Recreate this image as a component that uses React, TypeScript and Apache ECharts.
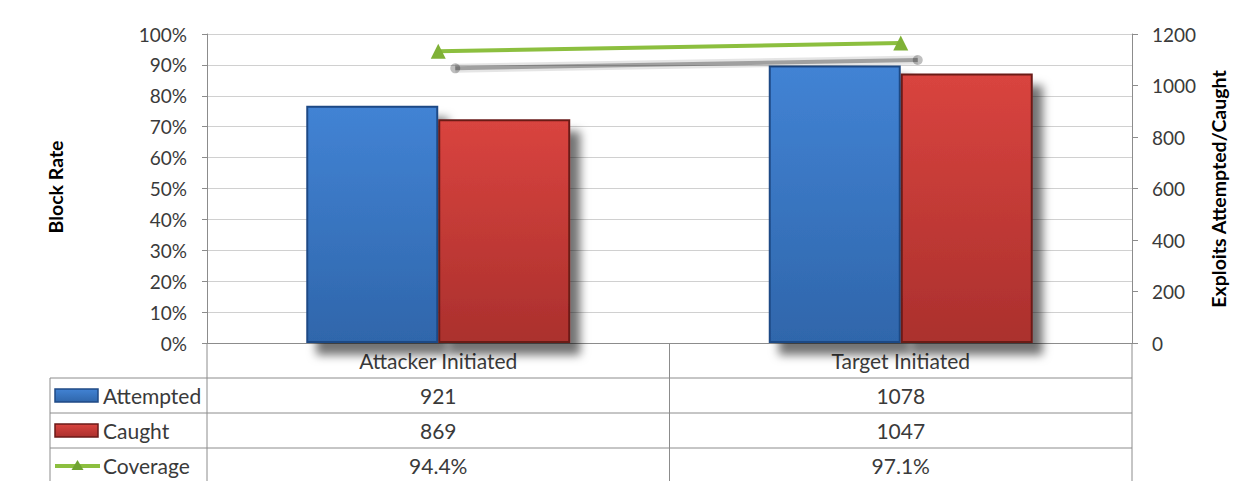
import React, { useEffect, useRef } from "react";
import * as echarts from "echarts";

const categories = ["Attacker Initiated", "Target Initiated"];
const attempted = [921, 1078];
const caught = [869, 1047];
const coverage = [94.4, 97.1];
const seriesNames = ["Attempted", "Caught", "Coverage"];

const FONT = "Lato, 'Open Sans', sans-serif";
const TXT = "#3a3a3a";
const BLUE_GRAD = () =>
  new echarts.graphic.LinearGradient(0, 0, 0, 1, [
    { offset: 0, color: "#4283d4" },
    { offset: 1, color: "#2f66ab" },
  ]);
const RED_GRAD = () =>
  new echarts.graphic.LinearGradient(0, 0, 0, 1, [
    { offset: 0, color: "#d9443f" },
    { offset: 1, color: "#ab302d" },
  ]);
const GREEN = "#8cbf3f";

export default function App() {
  const ref = useRef<HTMLDivElement>(null);
  useEffect(() => {
    document.body.style.margin = "0";
    const chart = echarts.init(ref.current!, null, { renderer: "svg" });
    const W = 1234;
    const gLeft = 207;
    const gRight = 1132;
    const gTop = 34;
    const gBottom = 343;
    const colW = (gRight - gLeft) / categories.length;
    const rowTops = [378, 413, 448];
    const rowH = 35;
    const tableLeft = 50;
    const lineColor = "#8c8c8c";
    const SHOFF = 17;

    const rows = [
      attempted.map((v) => String(v)),
      caught.map((v) => String(v)),
      coverage.map((v) => v.toFixed(1) + "%"),
    ];

    const elements: any[] = [];
    rowTops.forEach((y) => {
      elements.push({
        type: "line",
        shape: { x1: tableLeft, y1: y, x2: gRight, y2: y },
        style: { stroke: lineColor, lineWidth: 1 },
      });
    });
    elements.push({
      type: "line",
      shape: { x1: tableLeft, y1: rowTops[0], x2: tableLeft, y2: 481 },
      style: { stroke: lineColor, lineWidth: 1 },
    });
    for (let i = 0; i <= categories.length; i++) {
      const x = gLeft + i * colW;
      elements.push({
        type: "line",
        shape: { x1: x, y1: gBottom, x2: x, y2: 481 },
        style: { stroke: lineColor, lineWidth: 1 },
      });
    }
    rows.forEach((vals, r) => {
      vals.forEach((v, i) => {
        elements.push({
          type: "text",
          x: gLeft + (i + 0.5) * colW,
          y: rowTops[r] + rowH / 2,
          style: {
            text: v,
            fill: TXT,
            font: `21px ${FONT}`,
            align: "center",
            verticalAlign: "middle",
          },
        });
      });
      elements.push({
        type: "text",
        x: 103,
        y: rowTops[r] + rowH / 2,
        style: {
          text: seriesNames[r],
          fill: TXT,
          font: `21px ${FONT}`,
          align: "left",
          verticalAlign: "middle",
        },
      });
    });
    elements.push({
      type: "rect",
      shape: { x: 55, y: rowTops[0] + 11, width: 43, height: 13 },
      style: { fill: BLUE_GRAD(), stroke: "#1f4a85", lineWidth: 1.5 },
    });
    elements.push({
      type: "rect",
      shape: { x: 55, y: rowTops[1] + 11, width: 43, height: 13 },
      style: { fill: RED_GRAD(), stroke: "#6b1a18", lineWidth: 1.5 },
    });
    elements.push({
      type: "line",
      shape: { x1: 55, y1: rowTops[2] + 18, x2: 100, y2: rowTops[2] + 18 },
      style: { stroke: GREEN, lineWidth: 4 },
    });
    elements.push({
      type: "polygon",
      shape: {
        points: [
          [77.5, rowTops[2] + 12],
          [71.5, rowTops[2] + 22],
          [83.5, rowTops[2] + 22],
        ],
      },
      style: { fill: "#6fa332" },
    });
    elements.push({
      type: "text",
      x: 55,
      y: 187,
      rotation: Math.PI / 2,
      style: {
        text: "Block Rate",
        fill: "#000",
        font: `bold 19.5px ${FONT}`,
        align: "center",
        verticalAlign: "middle",
      },
    });
    elements.push({
      type: "text",
      x: 1218,
      y: 189,
      rotation: Math.PI / 2,
      style: {
        text: "Exploits Attempted/Caught",
        fill: "#000",
        font: `bold 19.5px ${FONT}`,
        align: "center",
        verticalAlign: "middle",
      },
    });

    const barStyle = (grad: any, border: string) => ({
      color: grad,
      borderColor: border,
      borderWidth: 2,
      shadowColor: "rgba(0,0,0,0.55)",
      shadowBlur: 10,
      shadowOffsetX: 10,
      shadowOffsetY: 12,
    });

    chart.setOption({
      animation: false,
      backgroundColor: "#fff",
      textStyle: { fontFamily: FONT },
      grid: {
        left: gLeft,
        right: W - gRight,
        top: gTop,
        bottom: 481 - gBottom,
        containLabel: false,
      },
      xAxis: {
        type: "category",
        data: categories,
        axisLine: { show: true, lineStyle: { color: lineColor } },
        axisTick: { show: false },
        axisLabel: { fontSize: 21, color: TXT, margin: 7, fontFamily: FONT },
      },
      yAxis: [
        {
          type: "value",
          min: 0,
          max: 100,
          interval: 10,
          axisLine: { show: true, lineStyle: { color: lineColor } },
          axisTick: { show: true, length: 5, lineStyle: { color: lineColor } },
          axisLabel: {
            formatter: "{value}%",
            fontSize: 19,
            color: TXT,
            margin: 20,
            fontFamily: FONT,
          },
          splitLine: { show: true, lineStyle: { color: "#d0d0d0", width: 1 } },
        },
        {
          type: "value",
          min: 0,
          max: 1200,
          interval: 200,
          position: "right",
          axisLine: { show: true, lineStyle: { color: lineColor } },
          axisTick: { show: true, length: 6, lineStyle: { color: lineColor } },
          axisLabel: {
            fontSize: 19,
            color: TXT,
            margin: 20,
            fontFamily: FONT,
            formatter: (v: number) => String(v),
          },
          splitLine: { show: false },
        },
      ],
      series: [
        {
          name: seriesNames[0],
          type: "bar",
          yAxisIndex: 1,
          data: attempted,
          barWidth: 132,
          barGap: "0%",
          itemStyle: barStyle(BLUE_GRAD(), "#1f4a85"),
        },
        {
          name: seriesNames[1],
          type: "bar",
          yAxisIndex: 1,
          data: caught,
          barWidth: 132,
          barGap: "0%",
          itemStyle: barStyle(RED_GRAD(), "#6b1a18"),
        },
        {
          name: "Coverage shadow",
          type: "custom",
          yAxisIndex: 0,
          z: 3,
          silent: true,
          data: coverage.map((v, i) => [i, v]),
          renderItem: (params: any, api: any) => {
            if (params.dataIndex !== 0) return null;
            const pts = coverage.map((v, i) => {
              const p = api.coord([i, v]);
              return [p[0] + SHOFF, p[1] + SHOFF];
            });
            return {
              type: "group",
              children: [
                {
                  type: "polyline",
                  shape: { points: pts },
                  style: { stroke: "rgba(0,0,0,0.1)", lineWidth: 9, fill: "none" },
                },
                {
                  type: "polyline",
                  shape: { points: pts },
                  style: { stroke: "rgba(0,0,0,0.3)", lineWidth: 4, fill: "none" },
                },
                ...pts.map((p) => ({
                  type: "circle",
                  shape: { cx: p[0], cy: p[1], r: 5 },
                  style: { fill: "rgba(0,0,0,0.25)" },
                })),
              ],
            };
          },
        },
        {
          name: seriesNames[2],
          type: "line",
          yAxisIndex: 0,
          data: coverage,
          symbol: "triangle",
          symbolSize: 15,
          lineStyle: { color: GREEN, width: 4 },
          itemStyle: { color: "#7fb136" },
          z: 5,
        },
      ],
      graphic: { elements },
    });
    return () => chart.dispose();
  }, []);
  return (
    <div
      ref={ref}
      style={{ position: "fixed", left: 0, top: 0, width: 1234, height: 481 }}
    />
  );
}
